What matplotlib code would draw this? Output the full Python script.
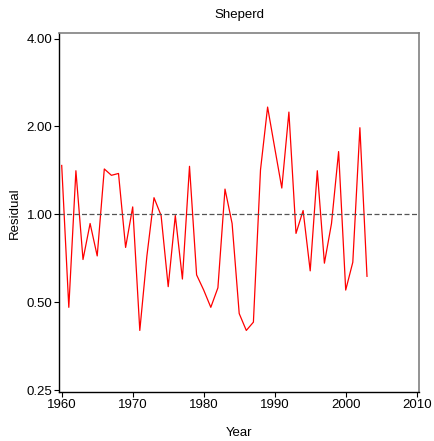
import numpy as np
import matplotlib.pyplot as plt
from matplotlib.ticker import FixedLocator, FixedFormatter, NullLocator

plt.rcParams['font.family'] = ['Liberation Sans', 'DejaVu Sans']

# Yearly residuals (ratio scale)
years = np.arange(1960, 2004)
residual = [
    1.47, 0.48, 1.41, 0.70, 0.93, 0.72, 1.43, 1.36, 1.38, 0.77,
    1.06, 0.40, 0.72, 1.14, 0.99, 0.565, 0.99, 0.60, 1.46, 0.62,
    0.55, 0.48, 0.56, 1.22, 0.93, 0.457, 0.40, 0.427, 1.42, 2.33,
    1.69, 1.23, 2.24, 0.86, 1.03, 0.64, 1.41, 0.68, 0.93, 1.64,
    0.55, 0.685, 1.98, 0.613,
]
y_ticks = [0.25, 0.5, 1.0, 2.0, 4.0]
y_labels = ['0.25', '0.50', '1.00', '2.00', '4.00']
x_ticks = [1960, 1970, 1980, 1990, 2000, 2010]

fig = plt.figure(figsize=(4.35, 4.41), dpi=100)
ax = fig.add_axes([0.1363, 0.1104, 0.8262, 0.8141])

ax.plot(years, residual, color='#ff0000', lw=0.9)
ax.axhline(1.0, color='#555555', lw=0.9, ls=(0, (4, 2)))

ax.set_yscale('log', base=2)
ax.set_ylim(0.2455, 4.17)
ax.set_xlim(1959.66, 2010.28)
ax.yaxis.set_major_locator(FixedLocator(y_ticks))
ax.yaxis.set_major_formatter(FixedFormatter(y_labels))
ax.yaxis.set_minor_locator(NullLocator())
ax.set_xticks(x_ticks)

ax.tick_params(direction='out', length=3.5, width=0.8, labelsize=9.5, pad=1.5, color='black')
for side in ('top', 'right'):
    ax.spines[side].set_color('#808080')
    ax.spines[side].set_linewidth(1.2)
for side in ('left', 'bottom'):
    ax.spines[side].set_color('black')
    ax.spines[side].set_linewidth(1.0)

ax.set_title('Sheperd', fontsize=9.5, pad=11)
ax.set_xlabel('Year', fontsize=9.5, labelpad=11)
ax.set_ylabel('Residual', fontsize=9.5, labelpad=4)

fig.savefig('out.png', dpi=100)
